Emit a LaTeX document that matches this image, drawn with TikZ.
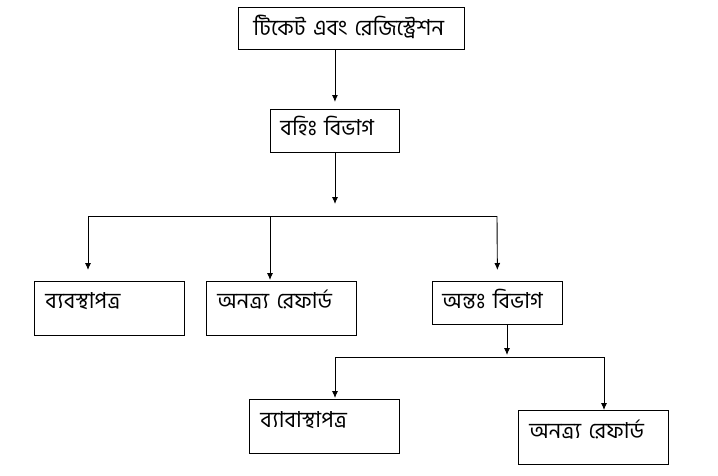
\documentclass[tikz,border=0pt]{standalone}
\usepackage{fontspec}
\newfontfamily\bn[Script=Bengali]{Hind Siliguri}
\usetikzlibrary{arrows.meta}
\begin{document}
\begin{tikzpicture}[x=1pt,y=-1pt]

    \tikzset{
      box/.style={
        draw,
        line width=0.9pt,
        anchor=north west,
        align=left,
        inner xsep=11pt,
        inner ysep=0pt,
        font=\bn\fontsize{22}{24}\selectfont,
      },
      arr/.style={
        line width=0.9pt,
        -{Latex[length=7pt,width=6pt]},
      },
    }
    \useasboundingbox (0,0) rectangle (718,475);
    % boxes
    \node[box,inner xsep=15pt,text width=196pt,text height=28pt,text depth=14pt] (ticket) at (238,7) {টিকেট এবং রেজিস্ট্রেশন};
    \node[box,inner xsep=10pt,text width=109pt,text height=26pt,text depth=17pt] (outdoor) at (270,109) {বহিঃ বিভাগ};
    \node[box,text width=128pt,text height=27pt,text depth=27pt] (presc) at (34,281) {ব্যবস্থাপত্র};
    \node[box,text width=128pt,text height=27pt,text depth=27pt] (refer) at (206,281) {অনত্র্য রেফার্ড};
    \node[box,inner xsep=10pt,text width=110pt,text height=27pt,text depth=16pt] (indoor) at (432,281) {অন্তঃ বিভাগ};
    \node[box,text width=128pt,text height=28pt,text depth=26pt] (presctwo) at (249,399) {ব্যাবাস্থাপত্র};
    \node[box,text width=128pt,text height=28pt,text depth=26pt] (refertwo) at (518,410) {অনত্র্য রেফার্ড};
    % bus lines
    \coordinate (busa) at (335,216);
    \coordinate (busaleft) at (88,216);
    \coordinate (busamid) at (270,216);
    \coordinate (busaright) at (497,216);
    \coordinate (busb) at (507,357);
    \coordinate (busbleft) at (335,357);
    \coordinate (busbright) at (604,357);
	\draw[arr,shorten >=7pt] (ticket.south -| outdoor.north) -- (outdoor.north);
	\draw[arr,shorten >=12pt] (outdoor.south -| busa) -- (busa);
	\draw[line width=0.9pt] (busaleft) -- (busaright);
	\draw[arr,shorten >=11pt] (busaleft) -- (busaleft |- presc.north);
	\draw[arr,shorten >=1pt] (busamid) -- (busamid |- refer.north);
	\draw[arr,shorten >=11pt] (busaright) -- (indoor.north);
	\draw[arr,shorten >=2pt] (indoor.south -| busb) -- (busb);
	\draw[line width=0.9pt] (busbleft) -- (busbright);
	\draw[arr,shorten >=1pt] (busbleft) -- (busbleft |- presctwo.north);
	\draw[arr] (busbright) -- (busbright |- refertwo.north);

\end{tikzpicture}
\end{document}
